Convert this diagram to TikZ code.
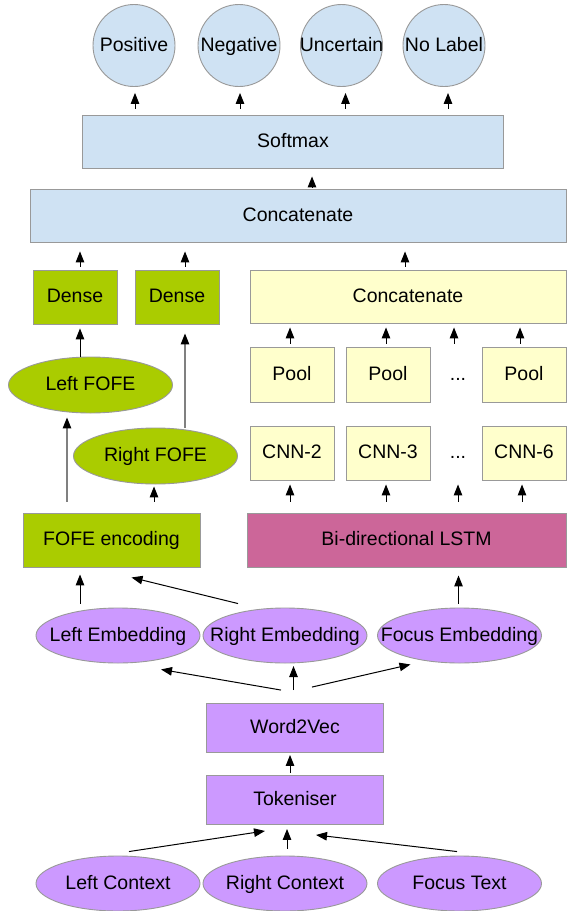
\documentclass[tikz,border=0pt]{standalone}
\usepackage{fontspec}
\setmainfont{Liberation Sans}
\usetikzlibrary{shapes.geometric,arrows.meta,calc}
\definecolor{cblue}{HTML}{CFE2F3}
\definecolor{cgreen}{HTML}{AACC00}
\definecolor{cyellow}{HTML}{FFFFCC}
\definecolor{cpink}{HTML}{CC6699}
\definecolor{cpurple}{HTML}{CC99FF}
\definecolor{cborder}{HTML}{999999}
\newcommand{\zb}[1]{\makebox[0pt]{#1}}
\tikzset{
  base/.style={draw=cborder, line width=0.9pt, inner sep=0pt, font=\fontsize{19.5}{22}\selectfont, text=black, text height=14pt, text depth=3pt},
  boxn/.style={base, rectangle, minimum width=#1},
  circn/.style={base, circle, fill=cblue, minimum size=82pt},
  ell/.style={base, ellipse, minimum width=164pt, minimum height=55pt},
  arr/.style={line width=1pt, -{Triangle[length=11pt,width=8.5pt]}},
  garr/.style={line width=1.2pt, draw=gray, -{Triangle[length=11pt,width=8.5pt,color=black]}},
  dots/.style={font=\fontsize{19.5}{22}\selectfont, text height=14pt, text depth=3pt, inner sep=0pt}
}
\begin{document}
\begin{tikzpicture}[x=1pt,y=-1pt]
\useasboundingbox (0,0) rectangle (568,911);
% output circles
\node[circn] (pos) at (134,45.5) {\zb{Positive}};
\node[circn] (neg) at (239,45.5) {\zb{Negative}};
\node[circn] (unc) at (341.5,45.5) {\zb{Uncertain}};
\node[circn] (nol) at (444,45.5) {\zb{No Label}};
% softmax & concatenate
\node[boxn=421pt, minimum height=53pt, fill=cblue] (soft) at (293,141.5) {Softmax};
\node[boxn=536pt, minimum height=53pt, fill=cblue] (cat) at (298,215.5) {Concatenate};
% dense
\node[boxn=84pt, minimum height=54pt, fill=cgreen] (d1) at (75,297) {Dense};
\node[boxn=84pt, minimum height=54pt, fill=cgreen] (d2) at (177,297) {Dense};
% yellow concatenate
\node[boxn=316pt, minimum height=53pt, fill=cyellow] (ycat) at (408,296.5) {Concatenate};
% pools
\node[boxn=84pt, minimum height=55pt, fill=cyellow] (p1) at (292,374.5) {Pool};
\node[boxn=84pt, minimum height=55pt, fill=cyellow] (p2) at (388,374.5) {Pool};
\node[dots] (pd) at (458,374.5) {...};
\node[boxn=84pt, minimum height=55pt, fill=cyellow] (p3) at (524,374.5) {Pool};
% cnns
\node[boxn=84pt, minimum height=54pt, fill=cyellow] (c1) at (292,453) {CNN-2};
\node[boxn=84pt, minimum height=54pt, fill=cyellow] (c2) at (388,453) {CNN-3};
\node[dots] (cd) at (458,453) {...};
\node[boxn=84pt, minimum height=54pt, fill=cyellow] (c3) at (524,453) {CNN-6};
% fofe
\node[ell, fill=cgreen, minimum height=56pt] (lf) at (90.5,385) {\zb{Left FOFE}};
\node[ell, fill=cgreen, minimum height=56pt] (rf) at (155.5,456) {\zb{Right FOFE}};
\node[boxn=177pt, minimum height=54pt, fill=cgreen] (fe) at (111.5,540) {FOFE encoding};
\node[boxn=319pt, minimum height=54pt, fill=cpink] (lstm) at (406.5,540) {Bi-directional LSTM};
% embeddings
\node[ell, fill=cpurple] (le) at (118,635.5) {\zb{Left Embedding}};
\node[ell, fill=cpurple] (re) at (285,635.5) {\zb{Right Embedding}};
\node[ell, fill=cpurple] (fce) at (459.5,635.5) {\zb{Focus Embedding}};
% word2vec, tokeniser
\node[boxn=177pt, minimum height=49pt, fill=cpurple] (w2v) at (295,728) {Word2Vec};
\node[boxn=177pt, minimum height=49pt, fill=cpurple] (tok) at (295,800) {Tokeniser};
% inputs
\node[ell, fill=cpurple] (lc) at (118,883.5) {\zb{Left Context}};
\node[ell, fill=cpurple] (rc) at (285,883.5) {\zb{Right Context}};
\node[ell, fill=cpurple] (ft) at (459.5,883.5) {\zb{Focus Text}};
% arrows: softmax -> outputs
\draw[arr] ($(soft.north -| pos.south)+(1,-6)$) -- ($(pos.south)+(1,6)$);
\draw[arr] ($(soft.north -| neg.south)+(1,-6)$) -- ($(neg.south)+(1,6)$);
\draw[arr] ($(soft.north -| unc.south)+(4,-6)$) -- ($(unc.south)+(4,6)$);
\draw[arr] ($(soft.north -| nol.south)+(4,-6)$) -- ($(nol.south)+(4,6)$);
% concat -> softmax
\draw[arr] ($(cat.north)+(14,-2)$) -- ($(soft.south -| cat.north)+(14,8)$);
% dense/ycat -> concat
\draw[arr] ($(d1.north)+(5,-3)$) -- ($(cat.south -| d1.north)+(5,9)$);
\draw[arr] ($(d2.north)+(8,-3)$) -- ($(cat.south -| d2.north)+(8,9)$);
\draw[arr] ($(ycat.north)+(-3,-3)$) -- ($(cat.south -| ycat.north)+(-3,9)$);
% pools -> ycat
\draw[arr] ($(p1.north)+(-2,-3)$) -- ($(ycat.south -| p1.north)+(-2,4)$);
\draw[arr] ($(p2.north)+(-2,-3)$) -- ($(ycat.south -| p2.north)+(-2,4)$);
\draw[arr] ($(pd.center |- p1.north)+(-4,-3)$) -- ($(ycat.south -| pd.center)+(-4,4)$);
\draw[arr] ($(p3.north)+(-4,-3)$) -- ($(ycat.south -| p3.north)+(-4,4)$);
% lstm -> cnns
\draw[arr] ($(lstm.north -| c1.south)+(-2,-11)$) -- ($(c1.south)+(-2,4)$);
\draw[arr] ($(lstm.north -| c2.south)+(-2,-11)$) -- ($(c2.south)+(-2,4)$);
\draw[arr] ($(lstm.north -| cd.center)+(0,-11)$) -- ($(c1.south -| cd.center)+(0,4)$);
\draw[arr] ($(lstm.north -| c3.south)+(-2,-11)$) -- ($(c3.south)+(-2,4)$);
% fofe chain
\draw[arr] ($(lf.north -| d1.south)+(5,0)$) -- ($(d1.south)+(5,4)$);
\draw[garr] ($(rf.north -| d2.south)+(8,0)$) -- ($(d2.south)+(8,9)$);
\draw[garr] ($(fe.north)+(-44.5,-11)$) -- ($(lf.south -| fe.north)+(-44.5,4)$);
\draw[arr] ($(fe.north)+(42.5,-11)$) -- ($(rf.south -| fe.north)+(42.5,2)$);
% embeddings -> fofe / lstm
\draw[arr] ($(le.north)+(-38,-4)$) -- ($(fe.south -| le.north)+(-38,7)$);
\draw[arr] ($(re.north)+(-47,-4)$) -- ($(fe.south)+(20,10)$);
\draw[arr] ($(fce.north)+(-1,-4)$) -- ($(lstm.south -| fce.north)+(-1,8)$);
% word2vec -> embeddings
\draw[arr] ($(w2v.north)+(-14,-13)$) -- ($(le.south)+(43,6)$);
\draw[arr] ($(w2v.north)+(-1.5,-13)$) -- ($(w2v.north)+(-1.5,-37)$);
\draw[arr] ($(w2v.north)+(17,-16)$) -- ($(fce.south)+(-49,1)$);
% tokeniser -> word2vec
\draw[arr] ($(tok.north)+(-5,-2)$) -- ($(w2v.south)+(-5,2)$);
% inputs -> tokeniser
\draw[arr] ($(lc.north)+(11,-4)$) -- ($(tok.south)+(-30,6)$);
\draw[arr] ($(rc.north)+(2,-7)$) -- ($(tok.south)+(-8,4)$);
\draw[arr] ($(ft.north)+(-2.5,-4)$) -- ($(tok.south)+(21,10)$);
\end{tikzpicture}
\end{document}
